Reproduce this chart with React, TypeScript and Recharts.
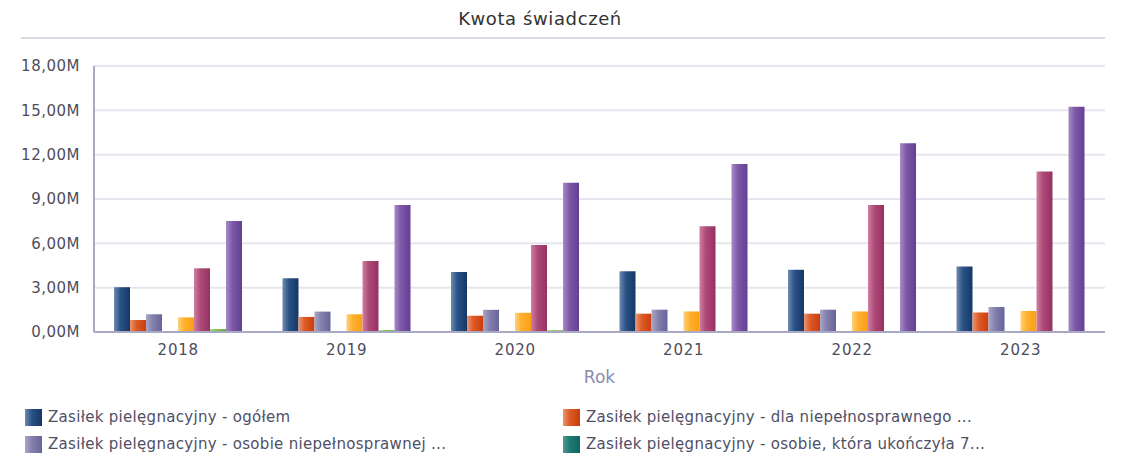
import React from 'react';
import { BarChart, Bar, XAxis, YAxis, CartesianGrid } from 'recharts';

const years = ['2018', '2019', '2020', '2021', '2022', '2023'];

// wartości w mln zł
const ogolem = [3.03, 3.63, 4.06, 4.11, 4.21, 4.43];
const dlaNiepelnosprawnego = [0.81, 1.02, 1.1, 1.24, 1.24, 1.32];
const osobieNiepelnosprawnej = [1.2, 1.38, 1.5, 1.51, 1.51, 1.69];
const osobie75 = [0, 0, 0, 0, 0, 0];
const seria5 = [0.99, 1.2, 1.3, 1.39, 1.39, 1.42];
const seria6 = [4.31, 4.8, 5.89, 7.15, 8.59, 10.86];
const seria7 = [0.2, 0.13, 0.12, 0, 0, 0];
const seria8 = [7.51, 8.6, 10.1, 11.36, 12.78, 15.24];

const yTicks = [0, 3, 6, 9, 12, 15, 18];

const series = [
    { key: 's1', values: ogolem, name: 'Zasiłek pielęgnacyjny - ogółem', colors: ['#6f8bb0', '#2a5286', '#143866'] },
    { key: 's2', values: dlaNiepelnosprawnego, name: 'Zasiłek pielęgnacyjny - dla niepełnosprawnego ...', colors: ['#ec9572', '#dc5a26', '#c83e0c'] },
    { key: 's3', values: osobieNiepelnosprawnej, name: 'Zasiłek pielęgnacyjny - osobie niepełnosprawnej ...', colors: ['#aaa6c8', '#8481ad', '#67649a'] },
    { key: 's4', values: osobie75, name: 'Zasiłek pielęgnacyjny - osobie, która ukończyła 7...', colors: ['#4c9a92', '#1f7a72', '#11665e'] },
    { key: 's5', values: seria5, name: 'seria 5', colors: ['#ffd07a', '#ffb02e', '#fb9e14'] },
    { key: 's6', values: seria6, name: 'seria 6', colors: ['#cf7fa2', '#ad4a78', '#963062'] },
    { key: 's7', values: seria7, name: 'seria 7', colors: ['#a6d884', '#7cc24a', '#66ae36'] },
    { key: 's8', values: seria8, name: 'seria 8', colors: ['#a68cc6', '#7d59a8', '#643e93'] },
];

const data = years.map((year, i) => {
    const row: any = { year };
    series.forEach(s => { row[s.key] = s.values[i] * 1000000; });
    return row;
});

const fmt = (v: number) => (v / 1000000).toFixed(2).replace('.', ',') + 'M';

const FONT = '"DejaVu Sans", Verdana, sans-serif';

export default function App() {
    return (
        <div style={{ position: 'relative', width: 1130, height: 454, overflow: 'hidden', background: '#fff', fontFamily: FONT }}>
            <style>{`body{margin:0}`}</style>
            <div style={{ position: 'absolute', left: 0, width: 1080, top: 8, textAlign: 'center', fontSize: 18, letterSpacing: 0.6, color: '#333' }}>
                Kwota świadczeń
            </div>
            <div style={{ position: 'absolute', left: 21, width: 1084, top: 37, height: 2, background: '#dcdce6' }} />
            <div style={{ position: 'absolute', left: 0, top: 0 }}>
                <BarChart
                    width={1130}
                    height={400}
                    data={data}
                    margin={{ top: 66, right: 25, left: 0, bottom: 0 }}
                    barGap={0}
                    barCategoryGap={20}
                >
                    <defs>
                        {series.map(s => (
                            <linearGradient key={s.key} id={'g' + s.key} x1="0" y1="0" x2="1" y2="0">
                                <stop offset="0%" stopColor={s.colors[0]} />
                                <stop offset="40%" stopColor={s.colors[1]} />
                                <stop offset="100%" stopColor={s.colors[2]} />
                            </linearGradient>
                        ))}
                    </defs>
                    <CartesianGrid vertical={false} stroke="#e6e6ee" strokeWidth={2} />
                    <XAxis
                        dataKey="year"
                        height={68}
                        axisLine={{ stroke: '#a9a9c4', strokeWidth: 2 }}
                        tickLine={false}
                        tickMargin={6}
                        tick={{ fill: '#4d4d5c', fontSize: 15, fontFamily: FONT, letterSpacing: 0.8 }}
                        label={{ value: 'Rok', position: 'insideBottom', offset: 17, fill: '#8a8db0', fontSize: 17, fontFamily: FONT }}
                    />
                    <YAxis
                        width={94}
                        domain={[0, 18000000]}
                        ticks={yTicks.map(t => t * 1000000)}
                        tickFormatter={fmt}
                        axisLine={{ stroke: '#a9a9c4', strokeWidth: 2 }}
                        tickLine={false}
                        tickMargin={8}
                        tick={{ fill: '#4d4d5c', fontSize: 15, fontFamily: FONT, letterSpacing: 0.5 }}
                    />
                    {series.map(s => (
                        <Bar key={s.key} dataKey={s.key} name={s.name} fill={`url(#g${s.key})`} isAnimationActive={false} />
                    ))}
                </BarChart>
            </div>
            {series.slice(0, 4).map((s, i) => (
                <div
                    key={s.key}
                    style={{
                        position: 'absolute',
                        left: i % 2 === 0 ? 25 : 563,
                        top: i < 2 ? 408 : 435,
                        display: 'flex',
                        alignItems: 'center',
                        fontSize: 15,
                        letterSpacing: 0.3,
                        color: '#4f4f66',
                        whiteSpace: 'nowrap',
                    }}
                >
                    <span style={{ width: 17, height: 17, marginRight: 6, background: `linear-gradient(to right, ${s.colors[0]}, ${s.colors[1]} 40%, ${s.colors[2]})` }} />
                    {s.name}
                </div>
            ))}
        </div>
    );
}
